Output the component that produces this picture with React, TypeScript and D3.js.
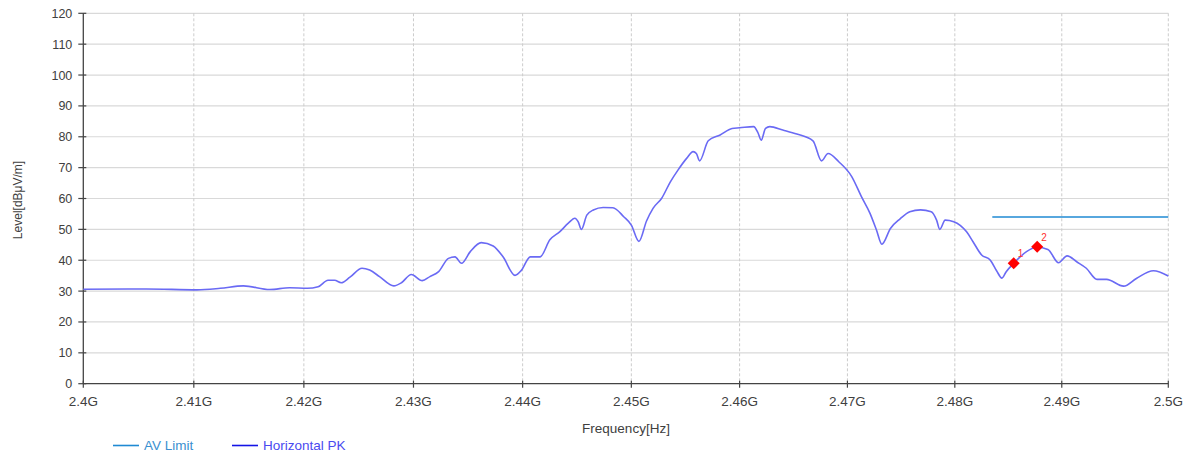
import React, { useEffect, useRef } from 'react';
import * as d3 from 'd3';

// trace (frequency in GHz, level in dBµV/m)
const freqGHz = [
  2.4, 2.4057, 2.4103, 2.4124, 2.4145, 2.4169, 2.4187, 2.4203, 2.4213, 2.4222,
  2.4228, 2.4234, 2.4242, 2.4253, 2.426, 2.4269, 2.4282, 2.4289, 2.4298, 2.4308,
  2.4315, 2.4323, 2.4332, 2.4338, 2.4344, 2.4352, 2.4362, 2.4373, 2.4382, 2.4393,
  2.4399, 2.4407, 2.4416, 2.4425, 2.4434, 2.4442, 2.4448, 2.4451, 2.4454, 2.4459,
  2.4465, 2.4474, 2.4483, 2.4493, 2.45, 2.4507, 2.4514, 2.452, 2.4528, 2.4536,
  2.4543, 2.4551, 2.4557, 2.456, 2.4563, 2.4571, 2.4582, 2.4593, 2.46, 2.4613,
  2.4617, 2.462, 2.4624, 2.4628, 2.464, 2.4653, 2.4668, 2.4676, 2.4682, 2.4692,
  2.4704, 2.4713, 2.4721, 2.4727, 2.4732, 2.474, 2.4749, 2.4758, 2.4768, 2.4778,
  2.4783, 2.4786, 2.4791, 2.4799, 2.4811, 2.4817, 2.4825, 2.4833, 2.4839, 2.4844,
  2.4848, 2.4855, 2.4867, 2.4877, 2.4887, 2.4897, 2.4905, 2.4914, 2.4923, 2.4933,
  2.4942, 2.4958, 2.497, 2.4986, 2.5,
];
const levelPK = [
  30.6, 30.7, 30.4, 30.9, 31.7, 30.5, 31.1, 30.9, 31.4, 33.5,
  33.5, 32.7, 34.5, 37.4, 36.8, 34.7, 31.7, 32.7, 35.4, 33.4,
  34.7, 36.3, 40.6, 41.1, 39.0, 42.8, 45.7, 44.6, 41.1, 35.1,
  36.8, 41.1, 41.1, 46.6, 49.2, 52.0, 53.6, 52.5, 50.0, 54.6,
  56.3, 57.1, 57.0, 54.1, 51.4, 46.1, 52.7, 56.8, 60.1, 65.4,
  69.2, 73.0, 75.2, 74.6, 72.2, 78.7, 80.6, 82.7, 82.9, 83.3,
  81.3, 78.9, 82.7, 83.3, 82.2, 80.9, 78.7, 72.2, 74.6, 71.9,
  67.1, 60.6, 55.2, 49.8, 45.2, 50.3, 53.4, 55.7, 56.3, 55.7,
  53.0, 50.0, 53.0, 52.5, 49.2, 46.0, 41.7, 40.1, 36.6, 34.2,
  36.3, 39.0, 42.8, 44.2, 43.5, 39.2, 41.4, 39.5, 37.4, 33.8,
  33.8, 31.6, 34.1, 36.6, 34.9,
];

const avLimitFreq = [2.4835, 2.5];
const avLimitLevel = [54, 54];

const markerFreq = [2.4855, 2.4877];
const markerLevel = [39.0, 44.4];
const markerLabels = ['1', '2'];

const xTicks = [2.4, 2.41, 2.42, 2.43, 2.44, 2.45, 2.46, 2.47, 2.48, 2.49, 2.5];
const xTickLabels = ['2.4G', '2.41G', '2.42G', '2.43G', '2.44G', '2.45G', '2.46G', '2.47G', '2.48G', '2.49G', '2.5G'];
const yTicks = [0, 10, 20, 30, 40, 50, 60, 70, 80, 90, 100, 110, 120];

const W = 1189;
const H = 454;
const FONT = '"Liberation Sans", Arial, sans-serif';

const App: React.FC = () => {
  const ref = useRef<SVGSVGElement | null>(null);

  useEffect(() => {
    if (!ref.current) return;
    const svg = d3.select(ref.current);
    svg.selectAll('*').remove();

    const left = 83.3, right = 1168.3, top = 13.3, bottom = 383.7;

    // the frequency axis is logarithmic in the original
    const x = d3.scaleLog().domain([2.4, 2.5]).range([left, right]);
    const y = d3.scaleLinear().domain([0, 120]).range([bottom, top]);

    svg.append('rect').attr('width', W).attr('height', H).attr('fill', '#fff');

    // grid
    svg.append('g')
      .selectAll('line')
      .data(yTicks.slice(1))
      .join('line')
      .attr('x1', left).attr('x2', right)
      .attr('y1', d => y(d)).attr('y2', d => y(d))
      .attr('stroke', '#d9d9d9').attr('stroke-width', 1.2);

    svg.append('g')
      .selectAll('line')
      .data(xTicks.slice(1))
      .join('line')
      .attr('x1', d => x(d)).attr('x2', d => x(d))
      .attr('y1', top).attr('y2', bottom)
      .attr('stroke', '#cccccc').attr('stroke-width', 1)
      .attr('stroke-dasharray', '3,2');

    // axes
    const axisColor = '#444';
    svg.append('line')
      .attr('x1', left).attr('x2', left).attr('y1', top).attr('y2', bottom)
      .attr('stroke', axisColor).attr('stroke-width', 1.3);
    svg.append('line')
      .attr('x1', left).attr('x2', right).attr('y1', bottom).attr('y2', bottom)
      .attr('stroke', axisColor).attr('stroke-width', 1.3);

    const yAx = svg.append('g');
    yAx.selectAll('line')
      .data(yTicks)
      .join('line')
      .attr('x1', left - 5).attr('x2', left + 3)
      .attr('y1', d => y(d)).attr('y2', d => y(d))
      .attr('stroke', axisColor).attr('stroke-width', 1.2);
    yAx.selectAll('text')
      .data(yTicks)
      .join('text')
      .attr('x', left - 11)
      .attr('y', d => y(d))
      .attr('dy', '0.36em')
      .attr('text-anchor', 'end')
      .attr('fill', '#404040')
      .style('font-family', FONT)
      .style('font-size', '12.5px')
      .text(d => String(d));

    const xAx = svg.append('g');
    xAx.selectAll('line')
      .data(xTicks)
      .join('line')
      .attr('x1', d => x(d)).attr('x2', d => x(d))
      .attr('y1', bottom - 3).attr('y2', bottom + 4)
      .attr('stroke', axisColor).attr('stroke-width', 1.2);
    xAx.selectAll('text')
      .data(xTicks)
      .join('text')
      .attr('x', d => x(d))
      .attr('y', 406)
      .attr('text-anchor', 'middle')
      .attr('fill', '#404040')
      .style('font-family', FONT)
      .style('font-size', '13.5px')
      .text((_, i) => xTickLabels[i]);

    // axis titles
    svg.append('text')
      .attr('transform', `translate(22,200) rotate(-90)`)
      .attr('text-anchor', 'middle')
      .attr('fill', '#404040')
      .style('font-family', FONT)
      .style('font-size', '12px')
      .text('Level[dBμV/m]');
    svg.append('text')
      .attr('x', 626)
      .attr('y', 433)
      .attr('text-anchor', 'middle')
      .attr('fill', '#404040')
      .style('font-family', FONT)
      .style('font-size', '13.5px')
      .text('Frequency[Hz]');

    // AV limit
    const limitData = avLimitFreq.map((f, i) => ({ f, v: avLimitLevel[i] }));
    svg.append('path')
      .datum(limitData)
      .attr('fill', 'none')
      .attr('stroke', '#1f8ad3')
      .attr('stroke-width', 1.6)
      .attr('d', d3.line<{ f: number; v: number }>().x(d => x(d.f)).y(d => y(d.v)) as any);

    // PK trace
    const trace = freqGHz.map((f, i) => ({ f, v: levelPK[i] }));
    svg.append('path')
      .datum(trace)
      .attr('fill', 'none')
      .attr('stroke', '#6a6af4')
      .attr('stroke-width', 1.6)
      .attr('stroke-linejoin', 'round')
      .attr('d', d3.line<{ f: number; v: number }>().x(d => x(d.f)).y(d => y(d.v)).curve(d3.curveMonotoneX) as any);

    // markers
    const mk = svg.append('g');
    markerFreq.forEach((f, i) => {
      const cx = x(f), cy = y(markerLevel[i]);
      mk.append('path')
        .attr('d', `M${cx},${cy - 6}L${cx + 6},${cy}L${cx},${cy + 6}L${cx - 6},${cy}Z`)
        .attr('fill', '#ff0000');
      mk.append('text')
        .attr('x', cx + 4)
        .attr('y', cy - 6)
        .attr('fill', '#ff3030')
        .style('font-family', FONT)
        .style('font-size', '10px')
        .text(markerLabels[i]);
    });

    // legend
    const legend = [
      { name: 'AV Limit', line: '#1f8ad3', text: '#3a8fd0', x0: 113 },
      { name: 'Horizontal PK', line: '#1414e6', text: '#4a4af0', x0: 232 },
    ];
    legend.forEach(l => {
      svg.append('line')
        .attr('x1', l.x0).attr('x2', l.x0 + 26)
        .attr('y1', 445.5).attr('y2', 445.5)
        .attr('stroke', l.line).attr('stroke-width', 1.6);
      svg.append('text')
        .attr('x', l.x0 + 31)
        .attr('y', 450)
        .attr('fill', l.text)
        .style('font-family', FONT)
        .style('font-size', '13.5px')
        .text(l.name);
    });
  }, []);

  return (
    <svg
      ref={ref}
      width={W}
      height={H}
      style={{ position: 'absolute', left: 0, top: 0, display: 'block' }}
    />
  );
};

export default App;
